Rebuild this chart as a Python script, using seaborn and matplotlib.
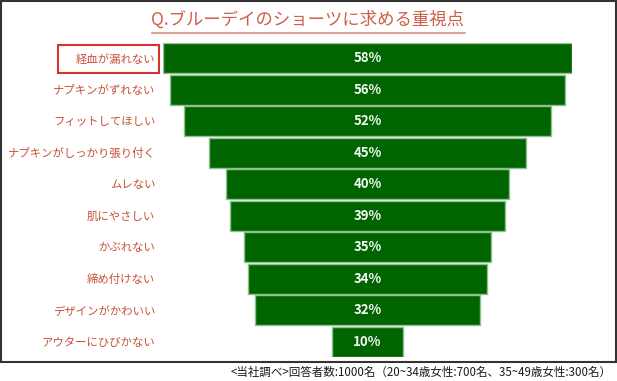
import matplotlib
matplotlib.use('Agg')
import matplotlib.pyplot as plt
from matplotlib.patches import Rectangle
from matplotlib.lines import Line2D
import seaborn as sns
import pandas as pd

labels = ["経血が漏れない", "ナプキンがずれない", "フィットしてほしい", "ナプキンがしっかり張り付く",
          "ムレない", "肌にやさしい", "かぶれない", "締め付けない", "デザインがかわいい", "アウターにひびかない"]
values = [58, 56, 52, 45, 40, 39, 35, 34, 32, 10]
title = "Q.ブルーデイのショーツに求める重視点"
footnote = "<当社調べ>回答者数:1000名（20~34歳女性:700名、35~49歳女性:300名）"

sns.set_theme(style='white')
plt.rcParams['font.family'] = ['Noto Sans CJK JP', 'DejaVu Sans']

W, H = 617, 381
fig = plt.figure(figsize=(W / 100, H / 100), dpi=100)
fig.patch.set_facecolor('white')
ax = fig.add_axes([163 / W, 1 - 357.4 / H, 409 / W, 314.9 / H])

df = pd.DataFrame({'item': labels, 'pct': values})
sns.barplot(data=df, x='pct', y='item', orient='h', color='#006400', saturation=1,
            width=0.95, edgecolor='#8fc08f', linewidth=1.0, ax=ax)
for p in ax.patches:
    w = p.get_width()
    p.set_x(-w / 2)

ax.set_xlim(-29, 29)
ax.set_ylim(9.5, -0.5)
ax.set_xlabel('')
ax.set_ylabel('')
ax.set_xticks([])
for s in ax.spines.values():
    s.set_visible(False)
ax.tick_params(axis='y', length=0, pad=5.5, labelcolor='#c8503c', labelsize=8.2)

for i, v in enumerate(values):
    ax.text(0, i, f"{v}%", ha='center', va='center', color='#f4fbf4',
            fontweight='bold', fontsize=9.5)

# red highlight box around first label
fig.add_artist(Rectangle((58 / W, 1 - 73 / H), 101 / W, 28 / H, transform=fig.transFigure,
                         fill=False, edgecolor='#d93030', lw=1.5))

# outer border
fig.add_artist(Rectangle((1 / W, 1 - 362 / H), 615 / W, 361 / H, transform=fig.transFigure,
                         fill=False, edgecolor='#333333', lw=1.5))

# title with underline
t = fig.text(308 / W, 1 - 20 / H, title, ha='center', va='center', fontsize=12.5, color='#cf5f4a')
fig.canvas.draw()
bb = t.get_window_extent(renderer=fig.canvas.get_renderer())
fig.add_artist(Line2D([bb.x0 / W, bb.x1 / W], [1 - 32.5 / H, 1 - 32.5 / H],
                      transform=fig.transFigure, color='#dca296', lw=1.5))

fig.text(612 / W, 1 - 372 / H, footnote, ha='right', va='center', fontsize=8.3, color='#1a1a1a')

fig.savefig('out.png', dpi=100)
